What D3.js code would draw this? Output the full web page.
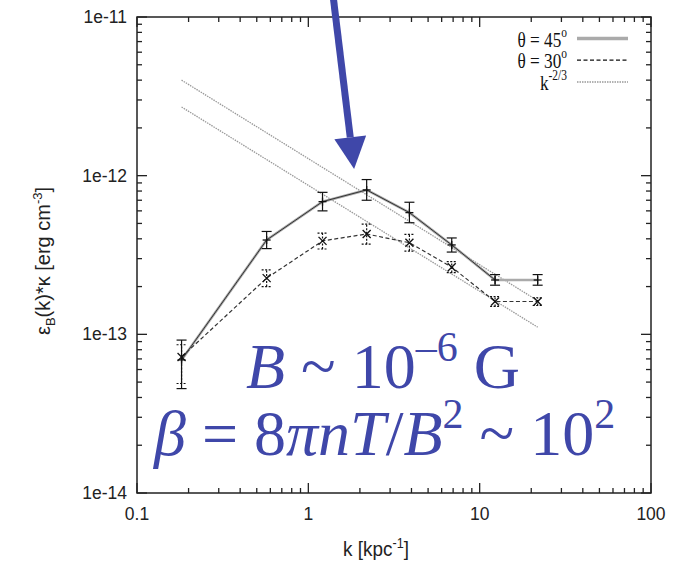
<!DOCTYPE html>
<html>
<head>
<meta charset="utf-8">
<script src="https://cdn.jsdelivr.net/npm/d3@7"></script>
<style>
  body { margin: 0; background: #fff; }
  svg { display: block; }
</style>
</head>
<body>
<div id="chart"></div>
<script>
// ---------------------------------------------
// Data
// ---------------------------------------------
const kValues = [0.182, 0.571, 1.21, 2.19, 3.89, 6.87, 12.3, 21.8];

const theta45 = [6.9e-14, 3.93e-13, 6.86e-13, 8.13e-13, 5.85e-13, 3.66e-13, 2.2e-13, 2.2e-13];
const theta45Lo = [4.55e-14, 3.47e-13, 6.0e-13, 7.0e-13, 5.05e-13, 3.3e-13, 2.04e-13, 2.04e-13];
const theta45Hi = [9.2e-14, 4.45e-13, 7.85e-13, 9.45e-13, 6.8e-13, 4.05e-13, 2.38e-13, 2.38e-13];

const theta30 = [7.2e-14, 2.26e-13, 3.88e-13, 4.29e-13, 3.78e-13, 2.65e-13, 1.61e-13, 1.61e-13];
const theta30Lo = [4.9e-14, 2.0e-13, 3.45e-13, 3.7e-13, 3.35e-13, 2.45e-13, 1.5e-13, 1.52e-13];
const theta30Hi = [8.6e-14, 2.55e-13, 4.35e-13, 4.95e-13, 4.27e-13, 2.87e-13, 1.73e-13, 1.7e-13];

// k^-2/3 guide lines: end points (straight on log-log)
const guideK = [0.182, 21.8];
const guideUpper = [4.0e-12, 1.63e-13];
const guideLower = [2.71e-12, 1.11e-13];

const xTickLabels = ["0.1", "1", "10", "100"];
const yTickLabels = ["1e-14", "1e-13", "1e-12", "1e-11"];

// annotation arrow, in data coordinates
const arrowTail = [1.39, 1.4e-11];
const arrowTip = [1.85, 1.1e-12];

// ---------------------------------------------
// Chart
// ---------------------------------------------
const width = 680;
const height = 565;
const margin = { left: 137, right: 29, top: 17, bottom: 72 };
const blue = "#3f47a9";

const svg = d3.select("#chart").append("svg")
  .attr("width", width)
  .attr("height", height);

const x = d3.scaleLog()
  .domain([0.1, 100])
  .range([margin.left, width - margin.right]);

const y = d3.scaleLog()
  .domain([1e-14, 1e-11])
  .range([height - margin.bottom, margin.top]);

const x0 = x.range()[0], x1 = x.range()[1];
const y0 = y.range()[0], y1 = y.range()[1];

// minor / major tick values
const xMajor = [0.1, 1, 10, 100];
const yMajor = [1e-14, 1e-13, 1e-12, 1e-11];
const xMinor = [], yMinor = [];
for (const d of [0.1, 1, 10]) for (let m = 2; m <= 9; m++) xMinor.push(d * m);
for (const d of [1e-14, 1e-13, 1e-12]) for (let m = 2; m <= 9; m++) yMinor.push(d * m);

const axisG = svg.append("g").attr("stroke", "#222").attr("stroke-width", 1.3);

function ticks(values, len) {
  values.forEach(v => {
    axisG.append("line").attr("x1", x(v)).attr("x2", x(v)).attr("y1", y0).attr("y2", y0 - len);
    axisG.append("line").attr("x1", x(v)).attr("x2", x(v)).attr("y1", y1).attr("y2", y1 + len);
  });
}
function yticks(values, len) {
  values.forEach(v => {
    axisG.append("line").attr("y1", y(v)).attr("y2", y(v)).attr("x1", x0).attr("x2", x0 + len);
    axisG.append("line").attr("y1", y(v)).attr("y2", y(v)).attr("x1", x1).attr("x2", x1 - len);
  });
}
ticks(xMajor, 10);
ticks(xMinor, 5);
yticks(yMajor, 10);
yticks(yMinor, 5);

svg.append("rect")
  .attr("x", x0).attr("y", y1)
  .attr("width", x1 - x0).attr("height", y0 - y1)
  .attr("fill", "none")
  .attr("stroke", "#222")
  .attr("stroke-width", 1.5);

// tick labels
const labelFont = "'Liberation Sans', Arial, sans-serif";
xMajor.forEach((v, i) => {
  svg.append("text")
    .attr("x", x(v))
    .attr("y", y0 + 27)
    .attr("text-anchor", "middle")
    .attr("font-family", labelFont)
    .attr("font-size", 17.5)
    .attr("fill", "#222")
    .text(xTickLabels[i]);
});
yMajor.forEach((v, i) => {
  svg.append("text")
    .attr("x", x0 - 10)
    .attr("y", y(v) + 6)
    .attr("text-anchor", "end")
    .attr("font-family", labelFont)
    .attr("font-size", 17.5)
    .attr("fill", "#222")
    .text(yTickLabels[i]);
});

// axis titles
const xt = svg.append("text")
  .attr("transform", `translate(376,${height - 9}) scale(0.9,1)`)
  .attr("text-anchor", "middle")
  .attr("font-family", labelFont)
  .attr("font-size", 21)
  .attr("fill", "#222");
xt.append("tspan").text("k [kpc");
xt.append("tspan").attr("font-size", 14).attr("dy", -8).text("-1");
xt.append("tspan").attr("dy", 8).text("]");

const yt = svg.append("text")
  .attr("transform", `translate(50,${(y0 + y1) / 2 + 6}) rotate(-90)`)
  .attr("text-anchor", "middle")
  .attr("font-family", labelFont)
  .attr("font-size", 20)
  .attr("fill", "#222");
yt.append("tspan").text("ε");
yt.append("tspan").attr("font-size", 13).attr("dy", 5).text("B");
yt.append("tspan").attr("dy", -5).text("(k)*κ  [erg cm");
yt.append("tspan").attr("font-size", 13).attr("dy", -8).text("-3");
yt.append("tspan").attr("dy", 8).text("]");

// guide lines k^-2/3
const guideLine = d3.line().x(d => x(d[0])).y(d => y(d[1]));
[guideUpper, guideLower].forEach(vals => {
  svg.append("path")
    .attr("d", guideLine(guideK.map((k, i) => [k, vals[i]])))
    .attr("fill", "none")
    .attr("stroke", "#999")
    .attr("stroke-width", 1.3)
    .attr("stroke-dasharray", "1.5,1");
});

// series lines
const line = d3.line().x(d => x(d[0])).y(d => y(d[1]));
const pts45 = kValues.map((k, i) => [k, theta45[i]]);
const pts30 = kValues.map((k, i) => [k, theta30[i]]);

svg.append("path")
  .attr("d", line(pts45))
  .attr("fill", "none")
  .attr("stroke", "#aaa")
  .attr("stroke-width", 2.6);
svg.append("path")
  .attr("d", line(pts45.slice(0, 7)))
  .attr("fill", "none")
  .attr("stroke", "#333")
  .attr("stroke-width", 1);

svg.append("path")
  .attr("d", line(pts30))
  .attr("fill", "none")
  .attr("stroke", "#333")
  .attr("stroke-width", 1.2)
  .attr("stroke-dasharray", "4,2.5");

// error bars + markers
function errorBars(vals, lo, hi, dash, marker) {
  const g = svg.append("g")
    .attr("stroke", "#111")
    .attr("stroke-width", 1.2)
    .attr("stroke-dasharray", dash);
  kValues.forEach((k, i) => {
    const cx = x(k);
    g.append("line").attr("x1", cx).attr("x2", cx).attr("y1", y(lo[i])).attr("y2", y(hi[i]));
    g.append("line").attr("x1", cx - 5).attr("x2", cx + 5).attr("y1", y(lo[i])).attr("y2", y(lo[i]));
    g.append("line").attr("x1", cx - 5).attr("x2", cx + 5).attr("y1", y(hi[i])).attr("y2", y(hi[i]));
  });
  const m = svg.append("g").attr("stroke", "#111").attr("stroke-width", 1.3);
  kValues.forEach((k, i) => {
    const cx = x(k), cy = y(vals[i]);
    if (marker === "+") {
      m.append("line").attr("x1", cx - 4).attr("x2", cx + 4).attr("y1", cy).attr("y2", cy);
      m.append("line").attr("x1", cx).attr("x2", cx).attr("y1", cy - 4).attr("y2", cy + 4);
    } else {
      m.append("line").attr("x1", cx - 4).attr("x2", cx + 4).attr("y1", cy - 4).attr("y2", cy + 4);
      m.append("line").attr("x1", cx - 4).attr("x2", cx + 4).attr("y1", cy + 4).attr("y2", cy - 4);
    }
  });
}
errorBars(theta45, theta45Lo, theta45Hi, null, "+");
errorBars(theta30, theta30Lo, theta30Hi, "2,1.5", "x");

// legend
const legendFont = "'Liberation Serif', 'Times New Roman', serif";
const legend = [
  { main: "θ = 45", sup: "o", stroke: "#aaa", width: 3.5, dash: null },
  { main: "θ = 30", sup: "o", stroke: "#111", width: 1.2, dash: "4,2.5" },
  { main: "k", sup: "-2/3", stroke: "#999", width: 1.5, dash: "1.5,1" }
];
legend.forEach((d, i) => {
  const ly = 38.5 + i * 21.7;
  const t = svg.append("text")
    .attr("transform", `translate(567,${ly + 8}) scale(0.82,1)`)
    .attr("text-anchor", "end")
    .attr("font-family", legendFont)
    .attr("font-size", 21)
    .attr("fill", "#111");
  t.append("tspan").text(d.main);
  t.append("tspan").attr("font-size", 14).attr("dy", -10).text(d.sup);
  svg.append("line")
    .attr("x1", 577).attr("x2", 628)
    .attr("y1", ly).attr("y2", ly)
    .attr("stroke", d.stroke)
    .attr("stroke-width", d.width)
    .attr("stroke-dasharray", d.dash);
});

// annotation arrow
const [ax0, ay0] = [x(arrowTail[0]), y(arrowTail[1])];
const [ax1, ay1] = [x(arrowTip[0]), y(arrowTip[1])];
const ang = Math.atan2(ay1 - ay0, ax1 - ax0);
const headLen = 32, headHalf = 16;
const bx = ax1 - headLen * Math.cos(ang), by = ay1 - headLen * Math.sin(ang);
svg.append("line")
  .attr("x1", ax0).attr("y1", ay0)
  .attr("x2", bx).attr("y2", by)
  .attr("stroke", blue)
  .attr("stroke-width", 7);
svg.append("path")
  .attr("d", `M${ax1},${ay1}L${bx - headHalf * Math.sin(ang)},${by + headHalf * Math.cos(ang)}L${bx + headHalf * Math.sin(ang)},${by - headHalf * Math.cos(ang)}Z`)
  .attr("fill", blue);

// blue formula text
const fFont = "'Liberation Serif', 'Times New Roman', serif";
const f1 = svg.append("text")
  .attr("x", 246).attr("y", 388)
  .attr("font-family", fFont)
  .attr("font-size", 64)
  .attr("fill", blue);
f1.append("tspan").attr("font-style", "italic").text("B");
f1.append("tspan").text(" ~ 10");
f1.append("tspan").attr("font-size", 42).attr("dy", -27).text("–6");
f1.append("tspan").attr("dy", 27).text(" G");

const f2 = svg.append("text")
  .attr("x", 154).attr("y", 455)
  .attr("font-family", fFont)
  .attr("font-size", 64)
  .attr("fill", blue);
f2.append("tspan").attr("font-style", "italic").text("β");
f2.append("tspan").text(" = 8");
f2.append("tspan").attr("font-style", "italic").text("πnT");
f2.append("tspan").text("/");
f2.append("tspan").attr("font-style", "italic").text("B");
f2.append("tspan").attr("font-size", 42).attr("dy", -27).text("2");
f2.append("tspan").attr("dy", 27).text(" ~ 10");
f2.append("tspan").attr("font-size", 42).attr("dy", -27).text("2");
</script>
</body>
</html>
